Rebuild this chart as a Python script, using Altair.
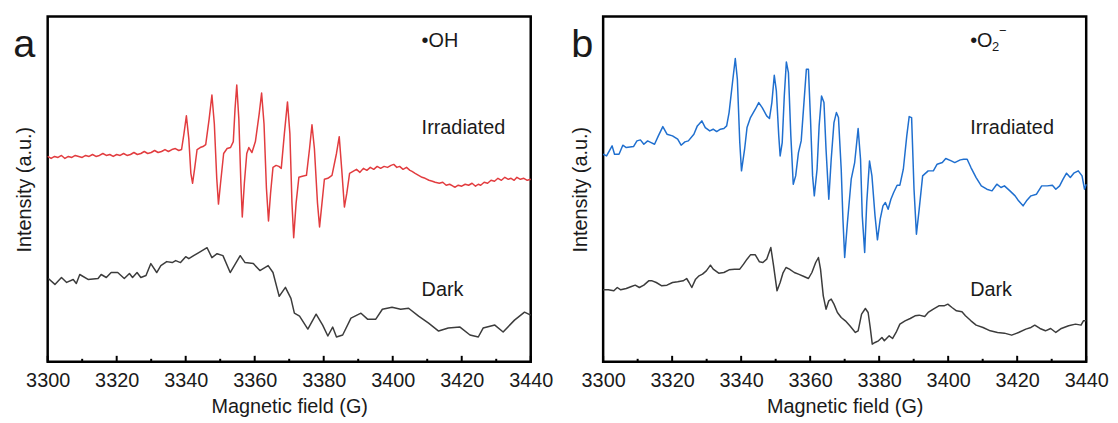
import altair as alt
import pandas as pd

FONT = "Liberation Sans"
TXT = "#1a1a1a"

# ---------------- data (Magnetic field in G, intensity in arbitrary units) ----------------
A_IRR_G = [3300, 3301, 3302, 3303, 3304, 3305, 3306, 3307, 3308, 3309,
           3310, 3311, 3312, 3313, 3314, 3315, 3316, 3317, 3318, 3319,
           3320, 3321, 3322, 3323, 3324, 3325, 3326, 3327, 3328, 3329,
           3330, 3331, 3332, 3333, 3334, 3335, 3336, 3337, 3338, 3338.8,
           3339.5, 3340.2, 3340.9, 3341.5, 3342.0, 3342.6, 3343.3, 3344.2, 3345.0, 3345.8,
           3346.8, 3347.6, 3348.3, 3349.0, 3349.5, 3350.1, 3351.0, 3352.0, 3353.0, 3353.8,
           3354.3, 3354.8, 3355.4, 3356.0, 3356.4, 3357.0, 3357.7, 3358.3, 3359.2, 3360.2,
           3361.3, 3362.0, 3362.7, 3363.4, 3364.0, 3364.6, 3365.3, 3366.2, 3367.0, 3367.7,
           3368.6, 3369.5, 3370.2, 3370.8, 3371.3, 3372.0, 3372.8, 3373.8, 3375.0, 3375.9,
           3376.6, 3377.3, 3378.2, 3378.8, 3379.5, 3380.2, 3381.2, 3382.4, 3383.7, 3384.5,
           3385.2, 3386.0, 3386.7, 3387.5, 3388.5, 3389.5, 3390.5, 3391.5, 3392.5, 3393.5,
           3394.5, 3395.5, 3396.5, 3397.5, 3398.5, 3399.5, 3400.3, 3401.2, 3402.0, 3403.0,
           3404.0, 3405.0, 3405.6, 3406.5, 3407.5, 3408.5, 3409.4, 3410.5, 3411.5, 3412.3,
           3413.5, 3414.5, 3415.5, 3416.5, 3417.5, 3418.1, 3419.0, 3420.0, 3421.0, 3422.0,
           3423.0, 3424.0, 3424.8, 3425.5, 3426.5, 3427.5, 3428.5, 3429.5, 3430.5, 3431.5,
           3432.5, 3433.5, 3434.3, 3435.2, 3436.0, 3437.0, 3438.0, 3439.0, 3440.0]
A_IRR_V = [207, 205, 207, 206, 208, 205, 207, 206, 208, 207,
           206, 208, 207, 209, 207, 208, 210, 208, 209, 207,
           209, 208, 210, 208, 209, 211, 209, 210, 212, 210,
           211, 213, 211, 212, 214, 212, 214, 215, 213, 214,
           230, 248, 225, 190, 180, 195, 214, 216, 217, 219,
           245, 269, 240, 185, 159, 180, 210, 215, 216, 222,
           255, 279, 245, 180, 146, 180, 210, 216, 211, 222,
           250, 271, 240, 175, 142, 170, 196, 198, 197, 195,
           230, 262, 230, 160, 125, 160, 186, 187, 188, 215,
           239, 215, 160, 136, 160, 184, 185, 188, 210, 227,
           195, 156, 170, 190, 192, 194, 191, 195, 193, 196,
           194, 197, 195, 197, 196, 198, 199, 196, 197, 194,
           196, 193, 192, 190, 188, 186, 185, 183, 182, 181,
           180, 181, 178, 179, 177, 176, 178, 177, 179, 178,
           180, 177, 179, 178, 181, 180, 183, 182, 185, 183,
           186, 184, 185, 183, 186, 184, 185, 183, 184]

A_DARK_G = [3300.2, 3302.1, 3304.0, 3305.5, 3307.4, 3308.3, 3309.3, 3311.7, 3314.6, 3315.5,
            3317.0, 3318.4, 3320.3, 3322.2, 3323.7, 3324.6, 3325.9, 3327.0, 3328.5, 3329.9,
            3331.6, 3332.8, 3334.5, 3336.1, 3337.1, 3338.5, 3340.0, 3340.9, 3342.3, 3343.8,
            3346.2, 3347.6, 3349.1, 3350.8, 3352.9, 3355.8, 3357.2, 3359.6, 3361.5, 3363.9,
            3365.3, 3367.1, 3368.9, 3370.5, 3371.5, 3373.0, 3375.4, 3377.8, 3379.7, 3381.2,
            3382.6, 3383.7, 3385.5, 3387.9, 3390.8, 3392.7, 3395.1, 3397.0, 3399.8, 3402.3,
            3404.6, 3407.5, 3410.4, 3413.3, 3416.1, 3419.5, 3422.4, 3424.8, 3426.2, 3429.6,
            3432.0, 3435.3, 3438.2, 3440.0]
A_DARK_V = [84, 78, 85, 80, 83, 79, 88, 83, 84, 88,
            85, 90, 90, 84, 89, 85, 90, 85, 87, 99,
            90, 97, 101, 100, 102, 100, 106, 104, 107, 110,
            115, 105, 109, 107, 90, 107, 100, 99, 92, 97,
            90, 66, 75, 64, 49, 46, 33, 48, 37, 26,
            35, 25, 27, 44, 49, 43, 43, 53, 55, 53,
            54, 46, 39, 31, 34, 35, 27, 25, 34, 37,
            30, 42, 50, 47]

B_IRR_G = [3300.0, 3301.0, 3302.6, 3303.3, 3304.6, 3305.7, 3306.7, 3308.8, 3309.8, 3310.8,
           3311.8, 3312.9, 3313.9, 3314.9, 3316.0, 3317.3, 3318.5, 3320.1, 3321.6, 3322.6,
           3323.7, 3324.7, 3326.3, 3327.3, 3328.6, 3329.6, 3330.9, 3331.9, 3332.9, 3334.0,
           3335.0, 3335.8, 3336.5, 3337.6, 3338.3, 3338.9, 3339.6, 3340.1, 3341.0, 3341.7,
           3342.7, 3344.1, 3345.1, 3346.1, 3347.4, 3348.2, 3348.9, 3349.6, 3350.2, 3350.9,
           3351.3, 3351.9, 3352.5, 3353.1, 3353.7, 3354.4, 3355.1, 3355.8, 3356.6, 3357.4,
           3358.2, 3358.9, 3359.5, 3360.1, 3360.7, 3361.2, 3362.0, 3362.6, 3363.3, 3364.0,
           3364.6, 3365.4, 3366.1, 3366.9, 3367.6, 3368.2, 3369.0, 3369.5, 3370.0, 3370.8,
           3371.9, 3372.9, 3373.9, 3374.6, 3375.1, 3375.8, 3376.4, 3377.2, 3377.9, 3378.8,
           3379.5, 3380.3, 3381.1, 3381.8, 3382.6, 3383.4, 3384.2, 3385.2, 3386.0, 3387.0,
           3388.0, 3388.7, 3389.4, 3390.1, 3390.8, 3391.6, 3392.6, 3394.2, 3395.7, 3396.8,
           3398.3, 3399.3, 3400.9, 3401.9, 3403.5, 3404.5, 3405.5, 3406.6, 3408.1, 3409.6,
           3411.2, 3412.7, 3414.1, 3415.3, 3416.3, 3417.9, 3419.4, 3420.4, 3421.7, 3422.7,
           3424.0, 3425.6, 3427.1, 3428.7, 3430.2, 3431.2, 3432.3, 3433.3, 3434.3, 3435.4,
           3436.4, 3437.7, 3438.8, 3439.5, 3440.0]
B_IRR_V = [623, 618, 648, 623, 623, 650, 643, 646, 663, 666,
           653, 663, 658, 653, 678, 706, 683, 678, 668, 650,
           660, 663, 683, 708, 723, 703, 693, 698, 691, 698,
           700, 708, 748, 848, 910, 848, 658, 573, 638, 703,
           733, 758, 778, 763, 738, 730, 778, 860, 813, 678,
           618, 658, 798, 900, 868, 678, 533, 558, 628, 663,
           778, 878, 878, 728, 558, 498, 578, 708, 798, 778,
           638, 488, 608, 718, 748, 733, 578, 428, 313, 418,
           548, 598, 700, 608, 438, 328, 478, 603, 558, 438,
           366, 428, 468, 478, 458, 488, 508, 530, 530, 578,
           678, 736, 733, 518, 383, 458, 558, 573, 573, 593,
           598, 610, 603, 598, 606, 608, 608, 583, 553, 528,
           518, 513, 533, 523, 528, 513, 498, 483, 468, 483,
           498, 503, 528, 528, 530, 518, 528, 548, 566, 553,
           566, 573, 558, 518, 533]

B_DARK_G = [3300.0, 3301.5, 3303.1, 3304.1, 3305.1, 3306.7, 3308.2, 3309.3, 3310.5, 3311.8,
            3313.2, 3314.2, 3315.4, 3317.0, 3318.5, 3320.1, 3321.6, 3323.2, 3324.2, 3324.9,
            3325.7, 3326.8, 3327.8, 3328.8, 3329.9, 3331.1, 3331.9, 3333.5, 3335.0, 3336.5,
            3338.1, 3339.6, 3340.7, 3341.7, 3342.7, 3344.1, 3345.3, 3346.3, 3347.4, 3348.6,
            3349.4, 3350.4, 3351.3, 3352.1, 3353.0, 3354.0, 3355.4, 3356.6, 3358.2, 3359.5,
            3360.5, 3361.6, 3362.4, 3363.0, 3363.8, 3364.6, 3365.4, 3366.1, 3366.9, 3367.9,
            3369.0, 3370.2, 3371.5, 3373.1, 3373.9, 3374.9, 3376.0, 3376.8, 3377.4, 3378.0,
            3378.8, 3379.8, 3380.8, 3381.5, 3382.9, 3383.9, 3384.9, 3386.0, 3387.5, 3389.0,
            3390.4, 3391.6, 3393.2, 3394.2, 3395.7, 3397.3, 3398.8, 3399.9, 3401.1, 3402.4,
            3404.0, 3405.0, 3406.6, 3408.1, 3410.1, 3412.2, 3414.3, 3416.3, 3418.4, 3420.4,
            3422.5, 3424.0, 3425.1, 3426.6, 3428.2, 3429.7, 3431.2, 3432.8, 3434.9, 3436.9,
            3438.5, 3439.2, 3440.0]
B_DARK_V = [216, 216, 213, 223, 216, 220, 226, 230, 223, 230,
            243, 243, 238, 228, 230, 238, 240, 243, 250, 238,
            223, 248, 258, 263, 273, 290, 278, 266, 268, 276,
            278, 278, 293, 308, 321, 321, 300, 298, 308, 343,
            288, 213, 238, 266, 283, 278, 268, 263, 256, 250,
            268, 298, 313, 278, 198, 158, 183, 188, 173, 148,
            133, 123, 108, 88, 93, 143, 160, 148, 103, 53,
            58, 63, 73, 63, 78, 70, 88, 113, 123, 130,
            138, 140, 136, 148, 158, 168, 168, 173, 163, 153,
            150, 138, 123, 110, 103, 93, 88, 86, 80, 88,
            98, 103, 110, 100, 93, 100, 88, 100, 108, 113,
            110, 123, 123]

MAJOR_TICKS = [3300, 3320, 3340, 3360, 3380, 3400, 3420, 3440]
MINOR_TICKS = [3310, 3330, 3350, 3370, 3390, 3410, 3430]

W, H = 487, 348


def panel(irr_g, irr_v, dark_g, dark_v, color, ydom, letter, letter_x, label_x, species_texts):
    xscale = alt.Scale(domain=[3300, 3440], nice=False, zero=False)
    xaxis = alt.Axis(values=MAJOR_TICKS, format="d", title="Magnetic field (G)",
                     labelFlush=False, ticks=False, tickSize=0, domain=False,
                     labelPadding=9, titlePadding=6, labelOverlap=False, grid=False)
    yscale = alt.Scale(domain=ydom, nice=False, zero=False)
    yaxis = alt.Axis(title="Intensity (a.u.)", labels=False, ticks=False,
                     domain=False, grid=False, titlePadding=13)

    def line(g, v, c):
        return alt.Chart(pd.DataFrame({"field": g, "intensity": v})).mark_line(
            strokeWidth=1.5, strokeJoin="round", color=c).encode(
            x=alt.X("field:Q", scale=xscale, axis=xaxis),
            y=alt.Y("intensity:Q", scale=yscale, axis=yaxis))

    def ticks(vals, length):
        return alt.Chart(pd.DataFrame({"field": vals})).mark_rule(
            color="black", strokeWidth=2).encode(
            x=alt.X("field:Q", scale=xscale, axis=xaxis),
            y=alt.value(H), y2=alt.value(H - length))

    layers = [line(irr_g, irr_v, color), line(dark_g, dark_v, "#3c3c3c"),
              ticks(MAJOR_TICKS, 6), ticks(MINOR_TICKS, 3)]

    def txt(s, x, y, size=20, align="left"):
        return alt.Chart(pd.DataFrame({"t": [s]})).mark_text(
            font=FONT, fontSize=size, color=TXT, align=align, baseline="alphabetic").encode(
            x=alt.value(x), y=alt.value(y), text="t:N")

    layers.append(txt(letter, letter_x, 41, size=40, align="center"))
    for s, x, y, size in species_texts:
        layers.append(txt(s, x, y, size))
    layers.append(txt("Irradiated", label_x, 118))
    layers.append(txt("Dark", label_x, 282))
    return alt.layer(*layers).properties(width=W, height=H)


pa = panel(A_IRR_G, A_IRR_V, A_DARK_G, A_DARK_V, "#e23c3f", [0, 348], "a", -23.5, 377,
           [("•OH", 377, 31, 20)])
pb = panel(B_IRR_G, B_IRR_V, B_DARK_G, B_DARK_V, "#1f6fcf", [0, 1036], "b", -21, 370,
           [("•O", 370, 31, 20), ("2", 392, 35, 13), ("−", 399, 19, 13)])

chart = alt.hconcat(pa, pb, spacing=14).resolve_scale(y="independent").properties(
    padding={"left": 4, "top": 5, "right": 0, "bottom": 0}
).configure_view(
    stroke="black", strokeWidth=2.5
).configure_axis(
    labelFont=FONT, titleFont=FONT, labelFontSize=20, titleFontSize=20,
    labelColor=TXT, titleColor=TXT, titleFontWeight="normal"
)

chart.save("out.html", embed_options={"renderer": "svg", "actions": False})
